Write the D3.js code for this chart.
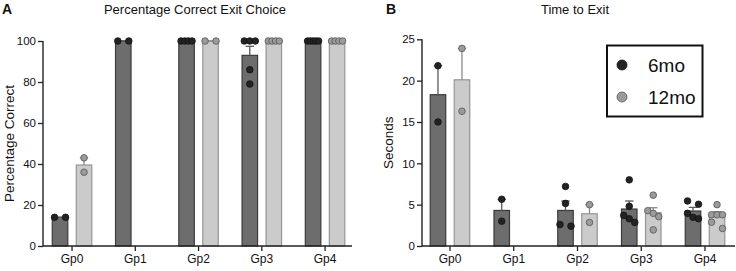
<!DOCTYPE html>
<html><head><meta charset="utf-8">
<script src="https://cdn.jsdelivr.net/npm/d3@7"></script>
<style>body{margin:0;background:#fff}svg{display:block;font-family:"Liberation Sans",Arial,sans-serif}</style>
</head><body><svg id="c" width="736" height="271"></svg>
<script>
const groups = ["Gp0","Gp1","Gp2","Gp3","Gp4"];
const series = ["6mo","12mo"];
// Panel A: Percentage correct exit choice
const correctMean6 = [14,100,100,93,100];
const correctTop6  = [14,100,100,97.4,100];
const correctPts6  = [[14,14],[100,100],[100,100,100,100],[100,100,100,86,79],[100,100,100,100,100]];
const correctMean12 = [39.5,null,100,100,100];
const correctTop12  = [43,null,100,100,100];
const correctPts12  = [[43,36],[],[100,100],[100,100,100,100],[100,100,100,100]];
const correctTicks = [0,20,40,60,80,100];
// Panel B: Time to exit (seconds)
const timeMean6 = [18.3,4.3,4.3,4.47,4.23];
const timeTop6  = [21.8,5.65,5.44,5.44,4.67];
const timePts6  = [[21.8,15.0],[5.65,3.0],[7.2,5.15,2.4,2.6],[8.0,4.8,3.7,3.3,2.85],[5.45,5.05,3.95,3.47,3.3]];
const timeMean12 = [20.1,null,3.9,4.03,3.8];
const timeTop12  = [23.9,null,5.0,4.63,4.15];
const timePts12  = [[23.9,16.3],[],[5.0,2.85],[6.15,4.27,3.95,3.55,1.95],[5.0,3.78,3.78,3.78,2.88,2.12]];
const timeTicks = [0,5,10,15,20,25];

const svg = d3.select("#c");
const style = {
  "6mo":  {fill:"#6d6d6d", stroke:"#3a3a3a", dot:"#232323", dotStroke:"#111", err:"#5a5a5a"},
  "12mo": {fill:"#cbcbcb", stroke:"#959595", dot:"#9b9b9b", dotStroke:"#555", err:"#8a8a8a"}
};

function panel(cfg){
  const g = svg.append("g");
  const x = d3.scaleBand().domain(groups).range(cfg.xr);
  const x1 = d3.scaleBand().domain(series).range([-19.75,19.75]).paddingInner(0.354).paddingOuter(0);
  const y = d3.scaleLinear().domain(cfg.yd).range([246, cfg.ytop]);
  const bw = x1.bandwidth();
  const r = 3.3;

  const sets = [
    {s:"6mo", mean:cfg.mean6, top:cfg.top6, pts:cfg.pts6},
    {s:"12mo", mean:cfg.mean12, top:cfg.top12, pts:cfg.pts12}
  ];
  sets.forEach(set=>{
    const st = style[set.s];
    groups.forEach((gp,i)=>{
      if(set.mean[i]==null) return;
      const cx = x(gp)+x.bandwidth()/2 + x1(set.s) + bw/2;
      g.append("rect").attr("x",cx-bw/2).attr("width",bw)
        .attr("y",y(set.mean[i])).attr("height",y(0)-y(set.mean[i]))
        .attr("fill",st.fill).attr("stroke",st.stroke).attr("stroke-width",1.2);
      g.append("line").attr("x1",cx).attr("x2",cx).attr("y1",y(set.mean[i])).attr("y2",y(set.top[i]))
        .attr("stroke",st.err).attr("stroke-width",1.3);
      g.append("line").attr("x1",cx-4.2).attr("x2",cx+4.2).attr("y1",y(set.top[i])).attr("y2",y(set.top[i]))
        .attr("stroke",st.err).attr("stroke-width",1.3);
      const pts = set.pts[i].map(v=>({v, py:y(v)})).sort((a,b)=>a.py-b.py);
      const clusters=[]; let cur=[];
      pts.forEach(p=>{
        if(cur.length && p.py-cur[cur.length-1].py >= 2*r){clusters.push(cur);cur=[];}
        cur.push(p);
      });
      if(cur.length) clusters.push(cur);
      clusters.forEach(cl=>{
        const n=cl.length, span = n>1 ? 11 : 0;
        cl.forEach((p,k)=>{
          const off = n>1 ? -span/2 + span*k/(n-1) : 0;
          g.append("circle").attr("cx",cx+off).attr("cy",p.py).attr("r",r)
            .attr("fill",st.dot).attr("stroke",st.dotStroke).attr("stroke-width",0.8);
        });
      });
    });
  });

  const yax = g.append("g").attr("transform",`translate(${cfg.ax0},0)`)
    .call(d3.axisLeft(y).tickValues(cfg.ticks).tickSize(5).tickPadding(2).tickSizeOuter(0));
  yax.select(".domain").remove();
  yax.selectAll(".tick line").attr("stroke","#222").attr("stroke-width",1.3);
  yax.selectAll("text").attr("font-size",11.5).attr("fill","#111").attr("font-family","Liberation Sans, Arial, sans-serif");
  g.append("line").attr("x1",cfg.ax0).attr("x2",cfg.ax0).attr("y1",y(cfg.yd[1])).attr("y2",246.6)
    .attr("stroke","#222").attr("stroke-width",1.4);

  const xax = g.append("g").attr("transform","translate(0,246)")
    .call(d3.axisBottom(x).tickSize(5).tickPadding(3).tickSizeOuter(0));
  xax.select(".domain").remove();
  xax.selectAll(".tick line").attr("stroke","#222").attr("stroke-width",1.3);
  xax.selectAll("text").attr("font-size",12).attr("fill","#111").attr("font-family","Liberation Sans, Arial, sans-serif");
  g.append("line").attr("x1",cfg.ax0).attr("x2",cfg.ax1).attr("y1",246).attr("y2",246)
    .attr("stroke","#222").attr("stroke-width",1.4);

  g.append("text").attr("x",cfg.titleX).attr("y",14).attr("text-anchor","middle")
    .attr("font-size",13).attr("fill","#111").text(cfg.title);
  g.append("text").attr("x",cfg.letterX).attr("y",14).attr("font-size",14).attr("font-weight","bold")
    .attr("fill","#111").text(cfg.letter);
  g.append("text").attr("transform",`translate(${cfg.ylabX},${(246+cfg.ytop)/2}) rotate(-90)`)
    .attr("text-anchor","middle").attr("font-size",13.5).attr("fill","#111").text(cfg.ylab);
}

panel({xr:[40.4,356.7], ax0:43, ax1:352, yd:[0,100], ytop:41, ticks:correctTicks,
  mean6:correctMean6, top6:correctTop6, pts6:correctPts6,
  mean12:correctMean12, top12:correctTop12, pts12:correctPts12,
  title:"Percentage Correct Exit Choice", titleX:195, letter:"A", letterX:2,
  ylab:"Percentage Correct", ylabX:14});

panel({xr:[418.1,736.9], ax0:422, ax1:735, yd:[0,25], ytop:39.3, ticks:timeTicks,
  mean6:timeMean6, top6:timeTop6, pts6:timePts6,
  mean12:timeMean12, top12:timeTop12, pts12:timePts12,
  title:"Time to Exit", titleX:575, letter:"B", letterX:386,
  ylab:"Seconds", ylabX:393});

const lg = svg.append("g");
lg.append("rect").attr("x",607).attr("y",45.5).attr("width",95.5).attr("height",71)
  .attr("fill","#fff").attr("stroke","#111").attr("stroke-width",2);
series.forEach((s,i)=>{
  const cy = 65 + i*32;
  lg.append("circle").attr("cx",622).attr("cy",cy).attr("r",5)
    .attr("fill",style[s].dot).attr("stroke",style[s].dotStroke).attr("stroke-width",0.8);
  lg.append("text").attr("x",648).attr("y",cy+6.5).attr("font-size",19).attr("fill","#111").text(s);
});
</script></body></html>
